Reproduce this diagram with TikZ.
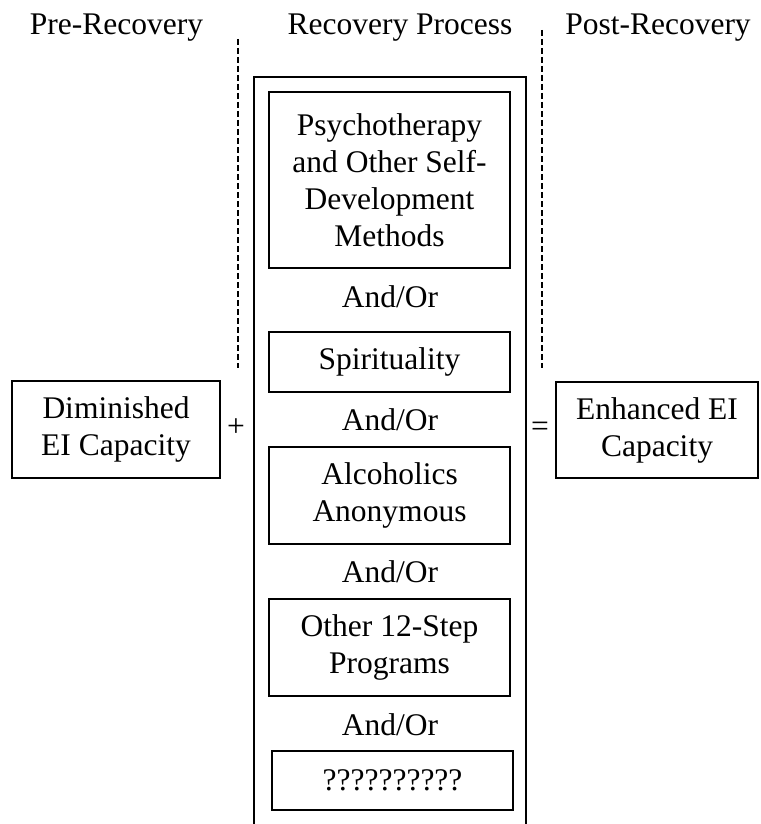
\documentclass[tikz,border=0pt]{standalone}
\usepackage{fontspec}
\setmainfont{Liberation Serif}
\begin{document}
\begin{tikzpicture}[x=1pt,y=-1pt,
  txt/.style={font=\fontsize{31.5}{37}\selectfont, inner sep=0pt, align=center},
  ibox/.style={txt, draw, line width=1.8pt, minimum width=241pt},
  divider/.style={line width=1.3pt, dash pattern=on 6pt off 3pt}]
\useasboundingbox (0,0) rectangle (760,824);
% headers
\node[txt, anchor=base] (pre) at (116.5,35) {Pre-Recovery};
\node[txt, anchor=base] (rec) at (400,35) {Recovery Process};
\node[txt, anchor=base] (post) at (658,35) {Post-Recovery};
% dividers
\coordinate (l1) at (238,39); \coordinate (l2) at (238,368);
\coordinate (r1) at (542,30); \coordinate (r2) at (542,368);
\draw[divider] (l1) -- (l2);
\draw[divider] (r1) -- (r2);
% outer box
\coordinate (o1) at (254,77); \coordinate (o2) at (526,840);
\draw[line width=1.8pt] (o1) rectangle (o2);
% inner boxes
\node[ibox, minimum height=176pt] (psy) at (389.5,180) {Psychotherapy\\and Other Self-\\Development\\Methods};
\node[txt, anchor=base] (ao1) at (390,307) {And/Or};
\node[ibox, minimum height=60pt] (spi) at (389.5,362) {Spirituality};
\node[txt, anchor=base] (ao2) at (390,430) {And/Or};
\node[ibox, minimum height=97pt] (alc) at (389.5,495.5) {Alcoholics\\Anonymous};
\node[txt, anchor=base] (ao3) at (390,582) {And/Or};
\node[ibox, minimum height=97pt] (oth) at (389.5,647.5) {Other 12-Step\\Programs};
\node[txt, anchor=base] (ao4) at (390,735) {And/Or};
\node[ibox, minimum height=59pt] (unk) at (392.5,780.5) {??????????};
% side boxes
\node[txt, draw, line width=1.8pt, minimum width=208pt, minimum height=97pt] (dim) at (116,429.5) {Diminished\\EI Capacity};
\node[txt, draw, line width=1.8pt, minimum width=202pt, minimum height=96pt] (enh) at (657,430) {Enhanced EI\\Capacity};
\node[txt] (plus) at (236,428) {+};
\node[txt] (eq) at (540,429) {=};
\end{tikzpicture}
\end{document}
